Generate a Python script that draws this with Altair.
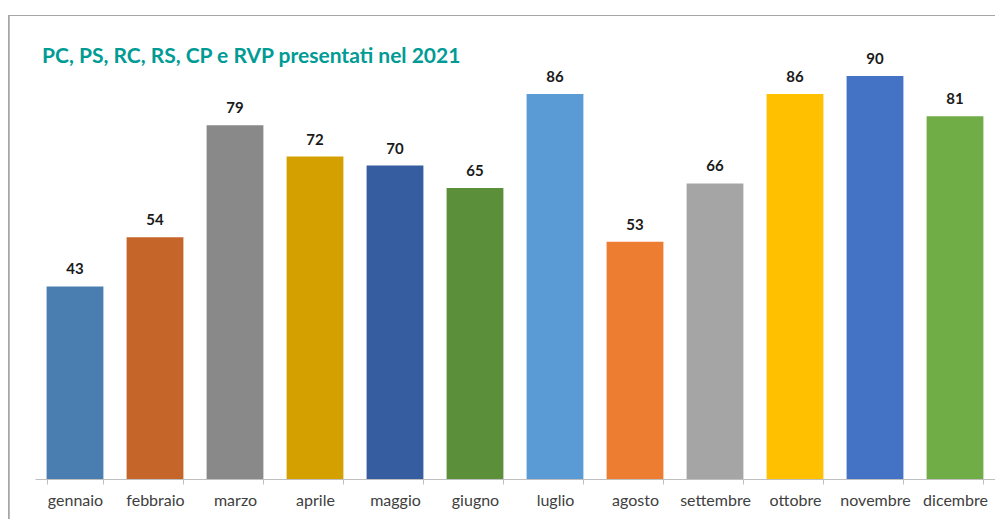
import altair as alt
import pandas as pd

months = ["gennaio", "febbraio", "marzo", "aprile", "maggio", "giugno",
          "luglio", "agosto", "settembre", "ottobre", "novembre", "dicembre"]
values = [43, 54, 79, 72, 70, 65, 86, 53, 66, 86, 90, 81]
colors = ["#4a7eb1", "#c6652a", "#898989", "#d4a000", "#365da0", "#5b8f3a",
          "#5b9bd5", "#ed7d31", "#a5a5a5", "#ffc000", "#4472c4", "#70ad47"]
title_text = "PC, PS, RC, RS, CP e RVP presentati nel 2021"

df = pd.DataFrame({"mese": months, "valore": values, "colore": colors})

FONT = "Lato"

x = alt.X("mese:N", sort=months, title=None,
          scale=alt.Scale(paddingInner=0.29, paddingOuter=0.145),
          axis=alt.Axis(labelAngle=0, labelFont=FONT, labelFontSize=16,
                        labelColor="#404040", labelPadding=8,
                        domainColor="#bfbfbf", tickColor="#bfbfbf",
                        tickSize=5, tickBand="extent", grid=False))
y = alt.Y("valore:Q", title=None,
          scale=alt.Scale(domain=[0, 90], nice=False, zero=True),
          axis=None)

bars = alt.Chart(df).mark_bar().encode(
    x=x, y=y, color=alt.Color("colore:N", scale=None)
)

labels = alt.Chart(df).mark_text(
    baseline="alphabetic", dy=-12, font=FONT, fontSize=15,
    fontWeight="bold", color="#1a1a1a"
).encode(x=alt.X("mese:N", sort=months), y="valore:Q", text="valore:Q")

title = alt.Chart(pd.DataFrame({"t": [title_text]})).mark_text(
    align="left", baseline="alphabetic", font=FONT, fontSize=21,
    fontWeight="bold", color="#009b95"
).encode(x=alt.value(7), y=alt.value(-13), text="t:N")

border_top = alt.Chart(df).mark_rule(color="#a6a6a6", strokeWidth=1.2).encode(
    x=alt.value(-27), x2=alt.value(970), y=alt.value(-60.5)
)
border_left = alt.Chart(df).mark_rule(color="#a6a6a6", strokeWidth=1.2).encode(
    x=alt.value(-26.5), y=alt.value(-61), y2=alt.value(450)
)

chart = alt.layer(border_top, border_left, bars, labels, title).properties(
    width=960, height=403,
    autosize=alt.AutoSizeParams(type="none"),
    padding={"left": 27, "top": 68, "right": 0, "bottom": 40},
).configure_view(stroke=None)

chart.save("out.html", embed_options={"renderer": "svg", "actions": False})
